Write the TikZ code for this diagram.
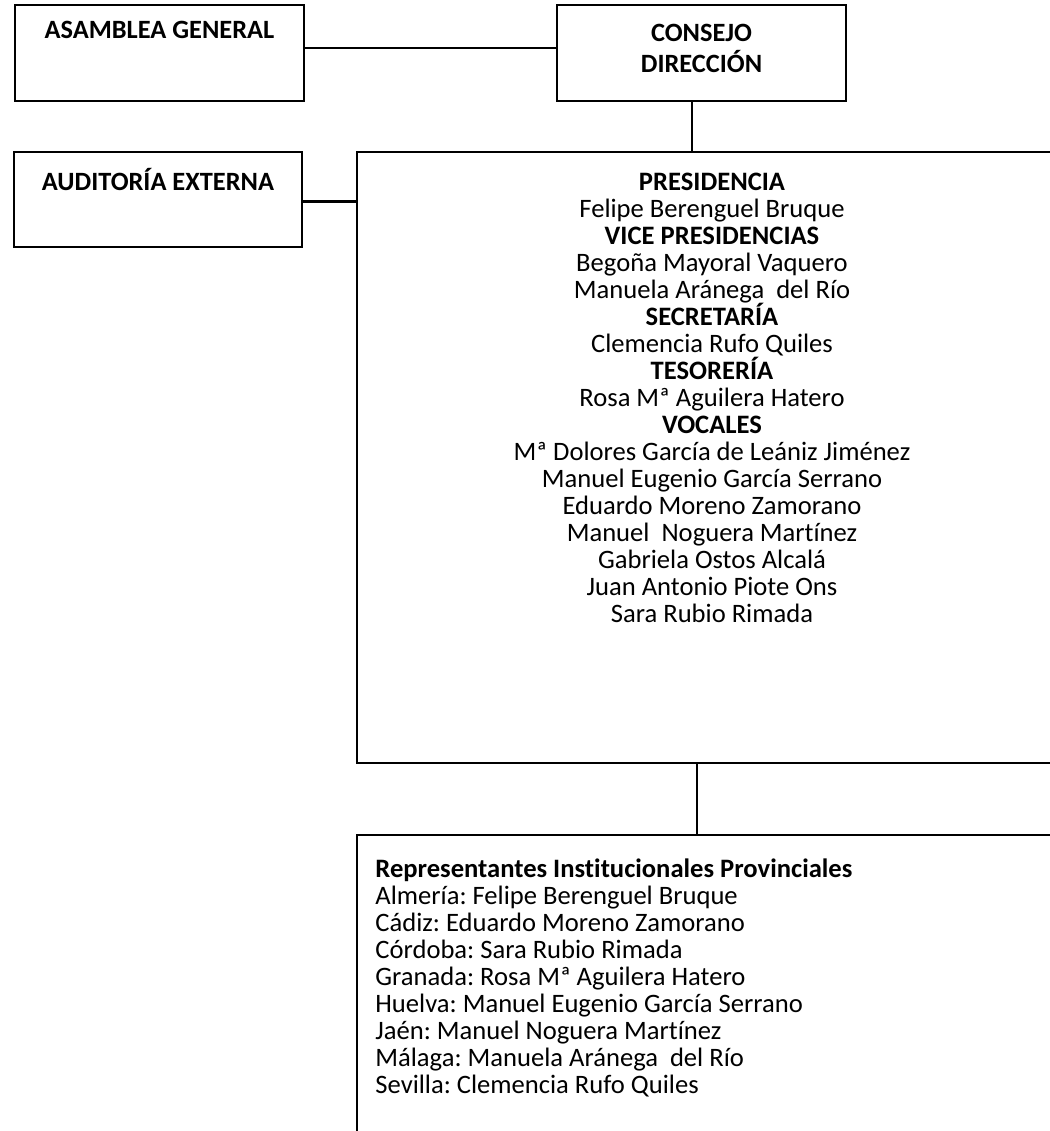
\documentclass[tikz,border=0pt]{standalone}
\usepackage{fontspec}
\setmainfont[Ligatures=NoCommon]{Carlito}
\begin{document}
\frenchspacing
\begin{tikzpicture}[x=0.5pt,y=-0.5pt,
  box/.style={draw=black, line width=1pt, rectangle, inner sep=0pt},
  conn/.style={draw=black, line width=1.4pt},
  head/.style={font=\bfseries\fontsize{13.2}{13.5}\selectfont, inner sep=0pt},
  body/.style={font=\fontsize{13.3}{13.5}\selectfont, inner sep=0pt}]
\useasboundingbox (0,0) rectangle (1050,1131);
\clip (0,0) rectangle (1050,1131);
\fill[white] (0,0) rectangle (1050,1131);
% boxes
\node[box, minimum width=144.5pt, minimum height=48pt] (asam) at (159.5,53) {};
\node[box, minimum width=144.5pt, minimum height=48pt] (cons) at (701.5,53) {};
\node[box, minimum width=144pt, minimum height=47.5pt] (aud) at (158,199.5) {};
\node[box, minimum width=355pt, minimum height=305.5pt] (big) at (712,457.5) {};
\node[box, minimum width=355pt, minimum height=172.5pt] (low) at (712,1007.5) {};
% texts
\node[head] (tasam) at (159.5,30) {ASAMBLEA GENERAL};
\node[head, align=center, font=\bfseries\fontsize{13.2}{15.5}\selectfont] (tcons) at (701.5,48) {CONSEJO\\DIRECCIÓN};
\node[head] (taud) at (158,179.5) {AUDITORÍA EXTERNA};
\node[body, align=center, anchor=north] (tbig) at (712,172.5) {%
\textbf{PRESIDENCIA}\\
Felipe Berenguel Bruque\\
\textbf{VICE PRESIDENCIAS}\\
Begoña Mayoral Vaquero\\
Manuela Aránega~ del Río\\
\textbf{SECRETARÍA}\\
Clemencia Rufo Quiles\\
\textbf{TESORERÍA}\\
Rosa Mª Aguilera Hatero\\
\textbf{VOCALES}\\
Mª Dolores García de Leániz Jiménez\\
Manuel Eugenio García Serrano\\
Eduardo Moreno Zamorano\\
Manuel~ Noguera Martínez\\
Gabriela Ostos Alcalá\\
Juan Antonio Piote Ons\\
Sara Rubio Rimada};
\node[body, align=left, anchor=north west] (tlow) at (375,858) {%
\textbf{Representantes Institucionales Provinciales}\\
Almería: Felipe Berenguel Bruque\\
Cádiz: Eduardo Moreno Zamorano\\
Córdoba: Sara Rubio Rimada\\
Granada: Rosa Mª Aguilera Hatero\\
Huelva: Manuel Eugenio García Serrano\\
Jaén: Manuel Noguera Martínez\\
Málaga: Manuela Aránega~ del Río\\
Sevilla: Clemencia Rufo Quiles};
% connectors
\draw[conn] ([yshift=2.5pt]asam.east) -- ([yshift=2.5pt]cons.west);
\draw[conn] ([xshift=-4.75pt]cons.south) -- ([xshift=-4.75pt]cons.south |- big.north);
\draw[conn] ([yshift=-1pt]aud.east) -- ([yshift=-1pt]aud.east -| big.west);
\draw[conn] ([xshift=-7.5pt]big.south) -- ([xshift=-7.5pt]big.south |- low.north);
\end{tikzpicture}
\end{document}
